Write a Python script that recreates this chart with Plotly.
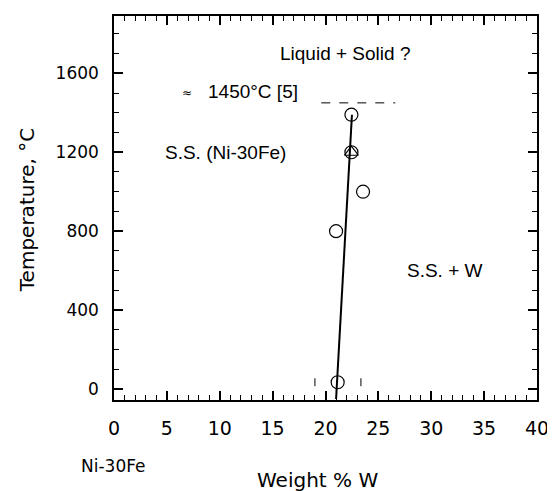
import plotly.graph_objects as go

# Data
circle_w = [22.45, 22.45, 23.55, 21.0, 21.15]
circle_t = [1390, 1200, 1000, 800, 35]
triangle_w = [22.45]
triangle_t = [1200]
fit_w = [21.0, 22.5]
fit_t = [-50, 1390]
dash_w = [19.6, 26.6]
dash_t = [1450, 1450]
bracket_w = [19.0, 23.35]
bracket_lo = [15, 15]
bracket_hi = [55, 55]
x_ticks = [0, 5, 10, 15, 20, 25, 30, 35, 40]
y_ticks = [0, 400, 800, 1200, 1600]

fig = go.Figure()

fig.add_trace(go.Scatter(x=fit_w, y=fit_t, mode="lines",
                         line=dict(color="black", width=2), showlegend=False))
fig.add_trace(go.Scatter(x=dash_w, y=dash_t, mode="lines",
                         line=dict(color="black", width=1, dash="dash"), showlegend=False))
bx, by = [], []
for w, lo, hi in zip(bracket_w, bracket_lo, bracket_hi):
    bx += [w, w, None]
    by += [lo, hi, None]
fig.add_trace(go.Scatter(x=bx, y=by, mode="lines",
                         line=dict(color="black", width=1), showlegend=False))
fig.add_trace(go.Scatter(x=circle_w, y=circle_t, mode="markers",
                         marker=dict(symbol="circle-open", size=13, color="black",
                                     line=dict(width=1.2)), showlegend=False))
fig.add_trace(go.Scatter(x=triangle_w, y=triangle_t, mode="markers",
                         marker=dict(symbol="triangle-up-open", size=12, color="black",
                                     line=dict(width=1.2)), showlegend=False))

tick_font = dict(family="DejaVu Sans", color="black")
ann_font = dict(family="Liberation Sans, Arial", size=19, color="black")

fig.update_xaxes(range=[0, 40], tickvals=x_ticks, ticktext=[str(v) for v in x_ticks],
                 showline=True, linecolor="black", linewidth=1.5, mirror="ticks",
                 ticks="inside", ticklen=9, tickwidth=1.5, tickcolor="black",
                 minor=dict(dtick=1, tick0=0, ticks="inside", ticklen=5, tickwidth=1.2,
                            tickcolor="black", showgrid=False),
                 showgrid=False, zeroline=False,
                 tickfont=dict(size=19, **tick_font), ticklabelstandoff=10)
fig.update_yaxes(range=[-55, 1890], tickvals=y_ticks, ticktext=[str(v) for v in y_ticks],
                 showline=True, linecolor="black", linewidth=1.5, mirror="ticks",
                 ticks="inside", ticklen=9, tickwidth=1.5, tickcolor="black",
                 minor=dict(dtick=100, tick0=0, ticks="inside", ticklen=5, tickwidth=1.2,
                            tickcolor="black", showgrid=False),
                 showgrid=False, zeroline=False,
                 tickfont=dict(size=17, **tick_font), ticklabelstandoff=10)

annotations = [
    dict(x=21.8, y=1700, xref="x", yref="y", text="Liquid + Solid ?", showarrow=False,
         font=ann_font, xanchor="center", yanchor="middle"),
    dict(x=6.9, y=1500, xref="x", yref="y", text="≈", showarrow=False,
         font=dict(family="DejaVu Sans", size=12, color="black"), xanchor="center", yanchor="middle"),
    dict(x=8.7, y=1506, xref="x", yref="y", text="1450°C [5]", showarrow=False,
         font=ann_font, xanchor="left", yanchor="middle"),
    dict(x=10.56, y=1200, xref="x", yref="y", text="S.S. (Ni-30Fe)", showarrow=False,
         font=ann_font, xanchor="center", yanchor="middle"),
    dict(x=31.27, y=600, xref="x", yref="y", text="S.S. + W", showarrow=False,
         font=ann_font, xanchor="center", yanchor="middle"),
    dict(x=-0.002, y=-0.171, xref="paper", yref="paper", text="Ni-30Fe", showarrow=False,
         font=dict(family="DejaVu Sans", size=17, color="black"), xanchor="center", yanchor="middle"),
    dict(x=0.481, y=-0.208, xref="paper", yref="paper", text="Weight % W", showarrow=False,
         font=dict(family="DejaVu Sans", size=20, color="black"), xanchor="center", yanchor="middle"),
    dict(x=-0.205, y=0.495, xref="paper", yref="paper", text="Temperature, °C", showarrow=False,
         textangle=-90,
         font=dict(family="DejaVu Sans", size=20, color="black"), xanchor="center", yanchor="middle"),
]

# the page body adds an 8px offset; compensate so the plot area lands where the reference has it
fig.update_layout(width=547, height=483, margin=dict(l=106, r=15, t=6, b=91),
                  paper_bgcolor="white", plot_bgcolor="white",
                  annotations=annotations, showlegend=False)

fig.write_html("out.html")
